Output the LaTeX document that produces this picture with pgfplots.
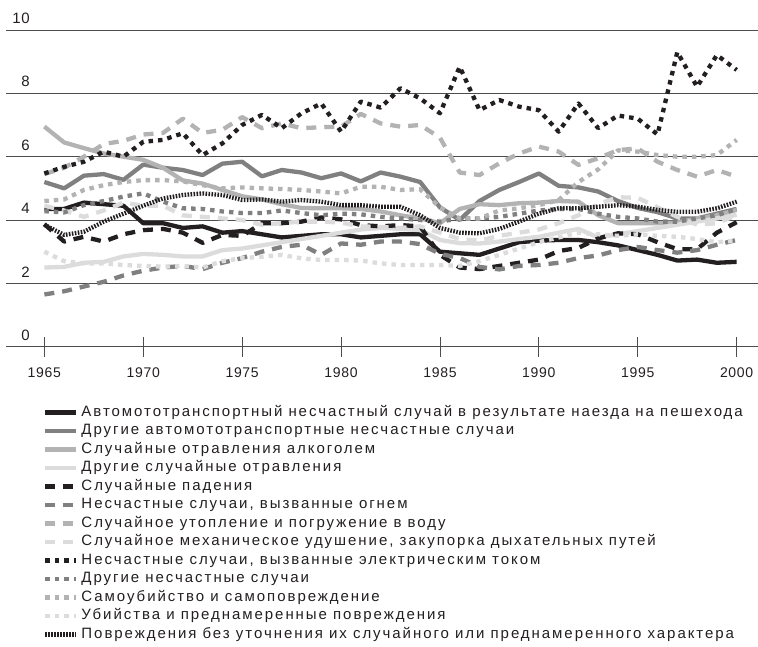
\documentclass[border=0pt]{standalone}
\usepackage{fontspec}
\setmainfont{Liberation Sans}[LetterSpace=5]
\newfontfamily\legfont{Liberation Sans}[LetterSpace=13]
\usepackage{pgfplots}
\usepackage{pgfplotstable}
\pgfplotsset{compat=1.18}
\definecolor{cA}{HTML}{231F20}
\definecolor{cB}{HTML}{808080}
\definecolor{cC}{HTML}{B3B3B3}
\definecolor{cD}{HTML}{DCDCDC}
\definecolor{gridc}{HTML}{4D4D4D}
\definecolor{txt}{HTML}{231F20}

\pgfplotstableread{
year s1 s2 s3 s4 s5 s6 s7 s8 s9 s10 s11 s12 s13
1965 4.35 5.20 6.95 2.50 3.87 1.65 5.45 4.45 5.47 4.28 4.60 3.00 3.85
1966 4.35 5.00 6.45 2.52 3.32 1.75 5.65 4.30 5.68 4.24 4.65 2.70 3.53
1967 4.55 5.40 6.27 2.65 3.47 1.90 6.00 4.10 5.84 4.47 4.95 2.63 3.63
1968 4.50 5.45 6.10 2.68 3.32 2.05 6.40 4.30 6.16 4.60 5.10 2.63 3.95
1969 4.45 5.27 6.00 2.85 3.55 2.25 6.50 4.55 6.00 4.74 5.20 2.58 4.20
1970 3.90 5.75 5.90 2.93 3.68 2.40 6.70 4.45 6.47 4.84 5.26 2.55 4.45
1971 3.90 5.65 5.65 2.90 3.72 2.50 6.75 4.45 6.53 4.58 5.26 2.53 4.68
1972 3.75 5.58 5.25 2.85 3.60 2.55 7.20 4.15 6.74 4.37 5.22 2.55 4.79
1973 3.80 5.42 5.15 2.85 3.28 2.45 6.75 4.10 6.05 4.35 5.10 2.50 4.84
1974 3.60 5.78 4.95 3.05 3.53 2.65 6.85 4.05 6.42 4.27 5.00 2.70 4.79
1975 3.65 5.84 4.75 3.10 3.50 2.80 7.25 4.00 7.00 4.22 5.03 2.80 4.63
1976 3.55 5.38 4.65 3.20 3.90 3.00 6.90 3.85 7.32 4.22 5.00 2.84 4.65
1977 3.45 5.58 4.50 3.30 3.90 3.15 7.05 3.90 6.90 4.30 4.98 2.90 4.58
1978 3.50 5.50 4.38 3.40 3.95 3.22 6.90 3.95 7.37 4.22 4.95 2.79 4.63
1979 3.55 5.32 4.37 3.50 4.08 2.90 6.93 3.95 7.68 4.15 4.90 2.74 4.58
1980 3.55 5.47 4.37 3.60 4.02 3.26 6.95 3.92 6.79 4.20 4.84 2.74 4.47
1981 3.45 5.22 4.35 3.70 3.84 3.22 7.35 3.80 7.74 4.18 5.05 2.72 4.47
1982 3.50 5.50 4.27 3.75 3.80 3.32 7.05 3.78 7.55 4.10 5.05 2.63 4.42
1983 3.55 5.37 4.15 3.72 3.84 3.32 6.95 3.75 8.16 4.05 4.95 2.58 4.42
1984 3.55 5.20 4.05 3.68 3.80 3.24 7.00 3.80 7.84 4.00 4.97 2.58 4.15
1985 3.00 4.40 3.90 3.37 2.90 2.93 6.60 3.60 7.37 3.95 4.40 2.58 3.75
1986 2.95 4.00 4.35 3.27 2.50 2.80 5.50 3.40 8.84 4.05 4.05 2.55 3.60
1987 2.90 4.60 4.50 3.26 2.45 2.52 5.42 3.35 7.47 4.05 4.05 2.70 3.58
1988 3.10 4.95 4.47 3.32 2.55 2.44 5.79 3.50 7.79 4.10 4.30 2.90 3.72
1989 3.30 5.20 4.53 3.40 2.65 2.55 6.10 3.60 7.58 4.20 4.37 3.10 3.95
1990 3.35 5.47 4.55 3.47 2.75 2.58 6.32 3.70 7.47 4.30 4.47 3.30 4.20
1991 3.37 5.08 4.60 3.60 3.02 2.65 6.16 3.90 6.79 4.35 4.63 3.45 4.37
1992 3.37 5.03 4.58 3.72 3.12 2.80 5.74 4.15 7.68 4.35 5.20 3.60 4.37
1993 3.30 4.90 4.15 3.45 3.42 2.88 5.95 4.50 6.90 4.20 5.60 3.55 4.42
1994 3.20 4.60 3.90 3.55 3.58 3.05 6.21 4.72 7.30 4.10 6.20 3.50 4.47
1995 3.05 4.38 3.90 3.65 3.55 3.15 6.26 4.70 7.20 4.05 6.16 3.55 4.42
1996 2.90 4.25 3.90 3.75 3.30 3.05 5.84 4.40 6.70 3.95 6.05 3.50 4.32
1997 2.72 4.05 3.92 3.85 3.08 2.97 5.58 4.10 9.30 3.95 6.00 3.47 4.26
1998 2.75 4.05 4.05 3.95 3.08 3.05 5.37 3.85 8.21 4.05 6.00 3.40 4.26
1999 2.65 4.20 4.15 4.05 3.60 3.22 5.58 3.90 9.21 4.15 6.05 3.30 4.37
2000 2.68 4.35 4.32 4.16 3.93 3.37 5.37 4.15 8.74 4.35 6.53 3.35 4.58
}\data

\begin{document}
\begin{tikzpicture}
\useasboundingbox (-6pt,-299.3pt) rectangle (752pt,346.7pt);
\begin{axis}[
  at={(0pt,0pt)}, anchor=south west,
  scale only axis, width=752pt, height=316.7pt,
  xmin=1963.06, xmax=2001.08, ymin=0, ymax=10,
  clip=false,
  axis line style={draw=none},
  ytick={0,2,4,6,8,10},
  ymajorgrids,
  grid style={draw=gridc, line width=0.9pt},
  xtick={1965,1970,...,2000},
  xtick pos=lower, ytick pos=left,
  tick align=center,
  major tick length=20pt,
  xtick style={draw=gridc, line width=0.9pt},
  ytick style={draw=none},
  /pgf/number format/assume math mode=true,
  x tick label style={/pgf/number format/1000 sep={}},
  tick label style={font=\fontsize{14}{16}\selectfont, text=txt},
  xticklabel style={anchor=north, inner sep=0pt, yshift=-11pt},
  yticklabel style={anchor=south east, inner sep=0pt, xshift=34pt, yshift=6pt, font=\fontsize{15}{16}\selectfont},
  legend image code/.code={\draw[#1] (0pt,0pt) -- (31pt,0pt);},
  legend cell align=left,
  legend style={draw=none, fill=none, inner sep=0pt, anchor=north west,
    at={(0.0492,-0.178)}, row sep=0pt,
    font=\legfont\fontsize{15}{18}\selectfont, text=txt,
    nodes={inner ysep=2pt, inner xsep=3pt, text height=11.2pt, text depth=3.3pt}},
  every axis plot/.append style={line width=4.3pt, line join=round, line cap=butt},
]
\addplot[cA] table[x=year,y=s1]{\data};
\addlegendentry{Автомототранспортный несчастный случай в результате наезда на пешехода}
\addplot[cB] table[x=year,y=s2]{\data};
\addlegendentry{Другие автомототранспортные несчастные случаи}
\addplot[cC] table[x=year,y=s3]{\data};
\addlegendentry{Случайные отравления алкоголем}
\addplot[cD] table[x=year,y=s4]{\data};
\addlegendentry{Другие случайные отравления}
\addplot[cA, dash pattern=on 10pt off 8pt] table[x=year,y=s5]{\data};
\addlegendentry{Случайные падения}
\addplot[cB, dash pattern=on 10pt off 8pt] table[x=year,y=s6]{\data};
\addlegendentry{Несчастные случаи, вызванные огнем}
\addplot[cC, dash pattern=on 10pt off 8pt] table[x=year,y=s7]{\data};
\addlegendentry{Случайное утопление и погружение в воду}
\addplot[cD, dash pattern=on 10pt off 8pt] table[x=year,y=s8]{\data};
\addlegendentry{Случайное механическое удушение, закупорка дыхательных путей}
\addplot[cA, dash pattern=on 4.5pt off 5pt] table[x=year,y=s9]{\data};
\addlegendentry{Несчастные случаи, вызванные электрическим током}
\addplot[cB, dash pattern=on 4.5pt off 5pt] table[x=year,y=s10]{\data};
\addlegendentry{Другие несчастные случаи}
\addplot[cC, dash pattern=on 4.5pt off 5pt] table[x=year,y=s11]{\data};
\addlegendentry{Самоубийство и самоповреждение}
\addplot[cD, dash pattern=on 4.5pt off 5pt] table[x=year,y=s12]{\data};
\addlegendentry{Убийства и преднамеренные повреждения}
\addplot[cA, dash pattern=on 1.6pt off 1.4pt] table[x=year,y=s13]{\data};
\addlegendentry{Повреждения без уточнения их случайного или преднамеренного характера}
\end{axis}
\end{tikzpicture}
\end{document}
